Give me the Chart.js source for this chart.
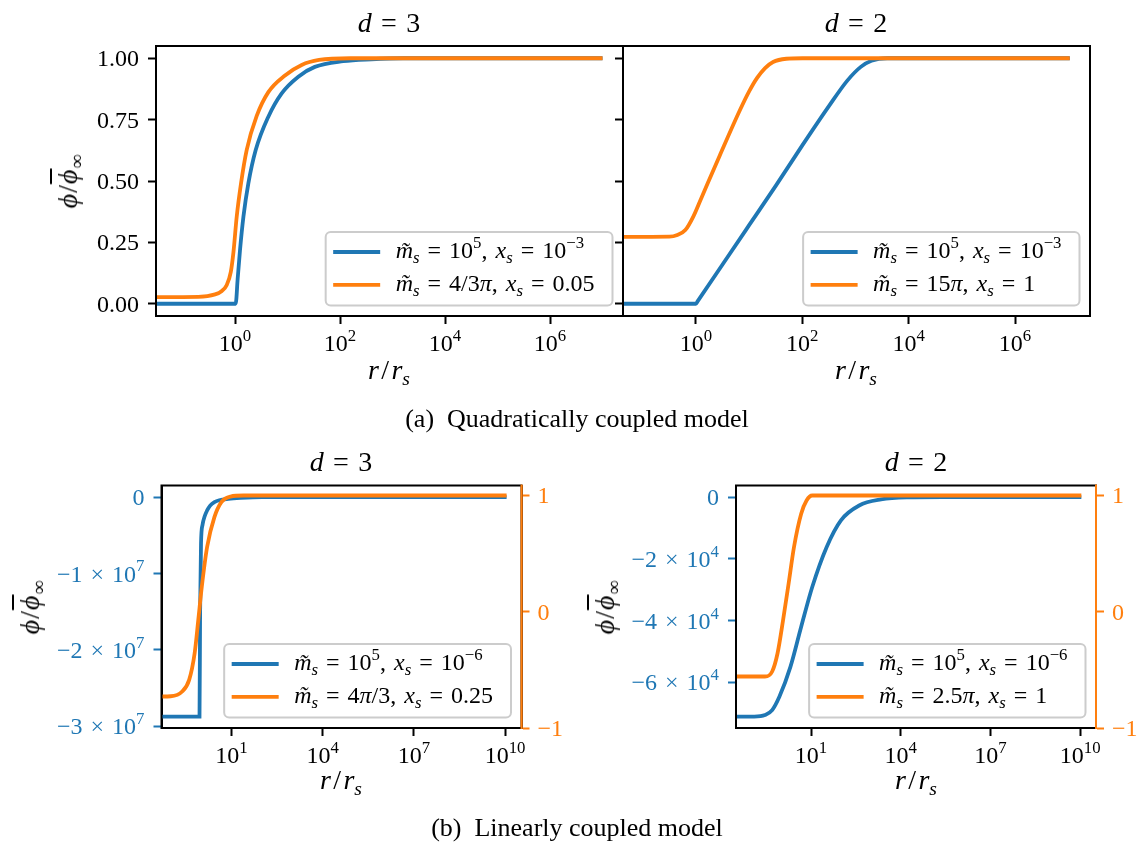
<!DOCTYPE html>
<html>
<head>
<meta charset="utf-8">
<script src="https://cdn.jsdelivr.net/npm/chart.js@4.4.0/dist/chart.umd.min.js"></script>
<style>
  body { margin: 0; background: #fff; }
  #fig { position: relative; width: 1148px; height: 843px; overflow: hidden; }
  #fig canvas { position: absolute; left: 0; top: 0; }
  .lab { position: absolute; font-family: "Liberation Serif", serif; white-space: nowrap; color: #000; transform: translateX(-50%); }
  .t28 { font-size: 28px; line-height: 28px; }
  .t26 { font-size: 26px; line-height: 26px; }
  .ylab { position: absolute; font: 28px "Liberation Serif", serif; line-height: 28px; white-space: nowrap; color: #000; transform: translate(-50%, -50%) rotate(-90deg); letter-spacing: 1px; }
  .lab i, .ylab i { font-style: italic; }
  sub { font-size: 70%; vertical-align: baseline; position: relative; top: 0.3em; line-height: 0; }
  .bar { text-decoration: overline; }
</style>
</head>
<body>
<div id="fig">
  <canvas id="cA" width="1148" height="843"></canvas>
  <canvas id="cB" width="1148" height="843"></canvas>
  <canvas id="cC" width="1148" height="843"></canvas>
  <canvas id="cD" width="1148" height="843"></canvas>

  <div class="lab t28" style="left:389px;top:9px"><i>d</i>&#8196;=&#8196;3</div>
  <div class="lab t28" style="left:856px;top:9px"><i>d</i>&#8196;=&#8196;2</div>
  <div class="lab t28" style="left:341px;top:448px"><i>d</i>&#8196;=&#8196;3</div>
  <div class="lab t28" style="left:916px;top:448px"><i>d</i>&#8196;=&#8196;2</div>

  <div class="lab t28" style="left:389px;top:356px"><i>r</i>&#8202;/&#8202;<i>r</i><sub><i>s</i></sub></div>
  <div class="lab t28" style="left:856px;top:356px"><i>r</i>&#8202;/&#8202;<i>r</i><sub><i>s</i></sub></div>
  <div class="lab t28" style="left:341px;top:766px"><i>r</i>&#8202;/&#8202;<i>r</i><sub><i>s</i></sub></div>
  <div class="lab t28" style="left:916px;top:766px"><i>r</i>&#8202;/&#8202;<i>r</i><sub><i>s</i></sub></div>

  <div class="ylab" style="left:68px;top:181px"><i>ϕ</i>/<i class="bar">ϕ</i><sub>∞</sub></div>
  <div class="ylab" style="left:30px;top:607px"><i>ϕ</i>/<i class="bar">ϕ</i><sub>∞</sub></div>
  <div class="ylab" style="left:605px;top:607px"><i>ϕ</i>/<i class="bar">ϕ</i><sub>∞</sub></div>

  <div class="lab t26" style="left:577px;top:406px">(a)&nbsp; Quadratically coupled model</div>
  <div class="lab t26" style="left:577px;top:815px">(b)&nbsp; Linearly coupled model</div>
</div>

<script>
const BLUE = '#1f77b4';
const ORANGE = '#ff7f0e';
const FONT = '"Liberation Serif", "Times New Roman", serif';
const W = 1148, H = 843;
const LW = 3.8;

// values: log10(r/r_s) and phi/phibar_inf

// (a) d = 3
const aBlueLogR = [-1.5, 0.013, 0.05, 0.095, 0.16, 0.254, 0.394, 0.635, 0.889, 1.206, 1.52, 2.06, 2.6, 3.2, 7.0];
const aBlueVal = [0, 0, 0.1, 0.218, 0.354, 0.49, 0.626, 0.762, 0.857, 0.925, 0.965, 0.988, 0.996, 1.0, 1.0];
const aOrangeLogR = [-1.5, -0.7, -0.38, -0.25, -0.16, -0.08, -0.03, 0.032, 0.114, 0.222, 0.413, 0.635, 0.952, 1.27, 1.6, 2.2, 7.0];
const aOrangeVal = [0.027, 0.028, 0.038, 0.052, 0.075, 0.13, 0.21, 0.354, 0.49, 0.626, 0.765, 0.862, 0.93, 0.973, 0.993, 1.0, 1.0];

// (a) d = 2
const bBlueLogR = [-1.37, 0.0, 0.03, 0.5, 1.0, 1.5, 2.0, 2.5, 2.85, 3.1, 3.3, 3.6, 7.03];
const bBlueVal = [0, 0, 0.0096, 0.16, 0.32, 0.48, 0.645, 0.805, 0.91, 0.965, 0.99, 1.0, 1.0];
const bOrangeLogR = [-1.37, -0.5, -0.35, -0.2, -0.05, 0.1, 0.45, 0.83, 1.0, 1.15, 1.3, 1.45, 1.7, 2.0, 7.03];
const bOrangeVal = [0.272, 0.273, 0.28, 0.3, 0.355, 0.43, 0.605, 0.79, 0.865, 0.92, 0.96, 0.985, 0.998, 1.0, 1.0];

// (b) d = 3 (blue on left axis, orange on right axis)
const cBlueLogR = [-1.3, -0.05, -0.03, 0.0, 0.05, 0.12, 0.2, 0.3, 0.44, 0.6, 0.9, 1.3, 2.0, 10.05];
const cBlueVal = [-2.873e7, -2.873e7, -1.5e7, -0.6e7, -0.36e7, -0.25e7, -0.174e7, -0.11e7, -0.065e7, -0.04e7, -0.022e7, -0.01e7, 0, 0];
const cOrangeLogR = [-1.3, -1.0, -0.62, -0.39, -0.21, -0.09, 0.025, 0.2, 0.44, 0.67, 0.97, 1.4, 10.05];
const cOrangeVal = [-0.729, -0.727, -0.686, -0.586, -0.357, -0.071, 0.214, 0.557, 0.814, 0.943, 0.991, 1.0, 1.0];

// (b) d = 2
const dBlueLogR = [-1.51, -0.9, -0.54, -0.3, -0.06, 0.31, 0.67, 1.04, 1.52, 2.0, 2.61, 3.34, 4.2, 5.4, 10.04];
const dBlueVal = [-7.11e4, -7.11e4, -7.06e4, -6.9e4, -6.47e4, -5.5e4, -4.2e4, -2.91e4, -1.62e4, -0.75e4, -0.27e4, -0.075e4, -0.01e4, 0, 0];
const dOrangeLogR = [-1.51, -0.54, -0.3, -0.12, 0.065, 0.25, 0.43, 0.67, 0.85, 1.04, 10.04];
const dOrangeVal = [-0.557, -0.557, -0.514, -0.357, -0.071, 0.243, 0.557, 0.843, 0.957, 1.0, 1.0];

// ticks and labels
const topXTicks = [1, 1e2, 1e4, 1e6];
const topXLabels = ['10^{0}', '10^{2}', '10^{4}', '10^{6}'];
const topYTicks = [0, 0.25, 0.5, 0.75, 1];
const topYLabels = ['0.00', '0.25', '0.50', '0.75', '1.00'];
const botXTicks = [1e1, 1e4, 1e7, 1e10];
const botXLabels = ['10^{1}', '10^{4}', '10^{7}', '10^{10}'];
const cYTicks = [0, -1e7, -2e7, -3e7];
const cYLabels = ['0', '−1 × 10^{7}', '−2 × 10^{7}', '−3 × 10^{7}'];
const dYTicks = [0, -2e4, -4e4, -6e4];
const dYLabels = ['0', '−2 × 10^{4}', '−4 × 10^{4}', '−6 × 10^{4}'];
const rightTicks = [-1, 0, 1];
const rightLabels = ['−1', '0', '1'];

const aLegend = ['m\u0303_{s} = 10^{5}, x_{s} = 10^{−3}', 'm\u0303_{s} = 4/3π, x_{s} = 0.05'];
const bLegend = ['m\u0303_{s} = 10^{5}, x_{s} = 10^{−3}', 'm\u0303_{s} = 15π, x_{s} = 1'];
const cLegend = ['m\u0303_{s} = 10^{5}, x_{s} = 10^{−6}', 'm\u0303_{s} = 4π/3, x_{s} = 0.25'];
const dLegend = ['m\u0303_{s} = 10^{5}, x_{s} = 10^{−6}', 'm\u0303_{s} = 2.5π, x_{s} = 1'];

function toXY(logR, vals) {
  return logR.map((e, i) => ({ x: Math.pow(10, e), y: vals[i] }));
}

// tiny TeX-ish text: ^{..} superscript, _{..} subscript, letters italic
function mathPieces(ctx, str, size) {
  const runs = [];
  const re = /([\^_])\{([^}]*)\}/g;
  let last = 0, m;
  while ((m = re.exec(str))) {
    if (m.index > last) runs.push({ t: str.slice(last, m.index), lvl: 0 });
    runs.push({ t: m[2], lvl: m[1] === '^' ? 1 : -1 });
    last = re.lastIndex;
  }
  if (last < str.length) runs.push({ t: str.slice(last), lvl: 0 });
  const pieces = [];
  let w = 0;
  runs.forEach(r => {
    (r.t.match(/[A-Za-zπϕ]\u0303?|[^A-Za-zπϕ]+/g) || []).forEach(t => {
      const it = /[A-Za-zπϕ]/.test(t[0]);
      const s = r.lvl ? size * 0.7 : size;
      const font = (it ? 'italic ' : '') + s + 'px ' + FONT;
      const txt = it ? t : t.replace(/ /g, '\u2004');
      ctx.font = font;
      const pw = ctx.measureText(txt).width;
      pieces.push({ t: txt, lvl: r.lvl, font, w: pw });
      w += pw;
    });
  });
  return { pieces, w };
}

function drawMath(ctx, str, x, y, size, color, align) {
  const { pieces, w } = mathPieces(ctx, str, size);
  let cx = align === 'right' ? x - w : align === 'center' ? x - w / 2 : x;
  ctx.save();
  ctx.fillStyle = color;
  ctx.textAlign = 'left';
  ctx.textBaseline = 'alphabetic';
  pieces.forEach(p => {
    ctx.font = p.font;
    const dy = p.lvl === 1 ? -0.42 * size : p.lvl === -1 ? 0.2 * size : 0;
    ctx.fillText(p.t, cx, y + dy);
    cx += p.w;
  });
  ctx.restore();
  return w;
}

function xAxis(range, ticks) {
  return {
    type: 'logarithmic', position: 'bottom', bounds: 'data',
    min: Math.pow(10, range[0]), max: Math.pow(10, range[1]),
    afterBuildTicks: s => { s.ticks = ticks.map(v => ({ value: v })); },
    afterFit: s => { s.height = 0; },
    ticks: { display: false },
    grid: { display: true, drawOnChartArea: false, drawTicks: true, tickLength: 8, tickWidth: 2, tickColor: '#000' },
    border: { display: true, color: '#000', width: 2 }
  };
}

function yAxis(position, spec) {
  return {
    type: 'linear', position, bounds: 'data', min: spec.min, max: spec.max,
    afterBuildTicks: s => { s.ticks = spec.ticks.map(v => ({ value: v })); },
    afterFit: s => { s.width = 0; },
    ticks: { display: false },
    grid: { display: true, drawOnChartArea: false, drawTicks: true, tickLength: 8, tickWidth: 2, tickColor: spec.color },
    border: { display: true, color: spec.spine || '#000', width: 2 }
  };
}

function line(data, color, axis, order) {
  return {
    data, borderColor: color, backgroundColor: color, borderWidth: LW,
    pointRadius: 0, showLine: true, fill: false,
    cubicInterpolationMode: 'monotone', yAxisID: axis, order
  };
}

function panel(id, box, p) {
  const scales = { x: xAxis(p.xRange, p.xTicks), y: yAxis('left', p.yLeft) };
  if (p.yRight) scales.y2 = yAxis('right', p.yRight);

  const textPlugin = {
    id: 'panelText',
    afterDatasetsDraw(chart) {
      const a = chart.chartArea, ctx = chart.ctx;
      ctx.save();
      ctx.lineWidth = 2;
      ctx.strokeStyle = '#000';
      ctx.strokeRect(a.left, a.top, a.right - a.left, a.bottom - a.top);
      if (p.yRight) {
        ctx.strokeStyle = ORANGE;
        ctx.beginPath();
        ctx.moveTo(a.right, a.top - 1);
        ctx.lineTo(a.right, a.bottom + 1);
        ctx.stroke();
      }
      ctx.restore();
    },
    afterDraw(chart) {
      const a = chart.chartArea, ctx = chart.ctx;
      const fs = 24;
      p.xTicks.forEach((v, i) => {
        drawMath(ctx, p.xLabels[i], chart.scales.x.getPixelForValue(v), a.bottom + 35, fs, '#000', 'center');
      });
      if (p.yLeft.labels) {
        p.yLeft.ticks.forEach((v, i) => {
          drawMath(ctx, p.yLeft.labels[i], a.left - 17, chart.scales.y.getPixelForValue(v) + 8, fs, p.yLeft.labelColor, 'right');
        });
      }
      if (p.yRight) {
        p.yRight.ticks.forEach((v, i) => {
          drawMath(ctx, p.yRight.labels[i], a.right + 16, chart.scales.y2.getPixelForValue(v) + 8, fs, ORANGE, 'left');
        });
      }
      // legend, lower right
      const ls = 24;
      const tw = Math.max(...p.legend.map(s => mathPieces(ctx, s, ls).w));
      const right = a.right - 10.5, bottom = a.bottom - 10.5;
      const bw = 70 + tw + 18, bh = 73.5;
      const left = right - bw, top = bottom - bh;
      ctx.save();
      ctx.beginPath();
      ctx.roundRect(left, top, bw, bh, 5);
      ctx.fillStyle = 'rgba(255,255,255,0.8)';
      ctx.fill();
      ctx.lineWidth = 2;
      ctx.strokeStyle = '#cccccc';
      ctx.stroke();
      const rows = [bottom - 53.5, bottom - 20.7];
      const colors = [BLUE, ORANGE];
      rows.forEach((ry, i) => {
        ctx.beginPath();
        ctx.moveTo(left + 7.5, ry);
        ctx.lineTo(left + 54.5, ry);
        ctx.strokeStyle = colors[i];
        ctx.lineWidth = LW;
        ctx.stroke();
        drawMath(ctx, p.legend[i], left + 70, ry + 6, ls, '#000', 'left');
      });
      ctx.restore();
    }
  };

  return new Chart(document.getElementById(id), {
    type: 'scatter',
    data: {
      datasets: [
        line(p.blue, BLUE, 'y', 1),
        line(p.orange, ORANGE, p.yRight ? 'y2' : 'y', 0)
      ]
    },
    options: {
      responsive: false,
      animation: false,
      devicePixelRatio: 1,
      layout: { padding: { left: box.l, top: box.t, right: W - box.r, bottom: H - box.b } },
      plugins: { legend: { display: false }, tooltip: { enabled: false } },
      scales
    },
    plugins: [textPlugin]
  });
}

panel('cA', { l: 156, t: 46, r: 623, b: 316 }, {
  xRange: [-1.505, 7.39], xTicks: topXTicks, xLabels: topXLabels,
  yLeft: { min: -0.05, max: 1.05, ticks: topYTicks, labels: topYLabels, color: '#000', labelColor: '#000' },
  blue: toXY(aBlueLogR, aBlueVal), orange: toXY(aOrangeLogR, aOrangeVal), legend: aLegend
});

panel('cB', { l: 623, t: 46, r: 1090, b: 316 }, {
  xRange: [-1.372, 7.41], xTicks: topXTicks, xLabels: topXLabels,
  yLeft: { min: -0.05, max: 1.05, ticks: topYTicks, labels: null, color: '#000' },
  blue: toXY(bBlueLogR, bBlueVal), orange: toXY(bOrangeLogR, bOrangeVal), legend: bLegend
});

panel('cC', { l: 161.5, t: 485.5, r: 521.5, b: 728 }, {
  xRange: [-1.3, 10.54], xTicks: botXTicks, xLabels: botXLabels,
  yLeft: { min: -3.022e7, max: 0.153e7, ticks: cYTicks, labels: cYLabels, color: BLUE, labelColor: BLUE },
  yRight: { min: -1, max: 1.086, ticks: rightTicks, labels: rightLabels, color: ORANGE, spine: ORANGE },
  blue: toXY(cBlueLogR, cBlueVal), orange: toXY(cOrangeLogR, cOrangeVal), legend: cLegend
});

panel('cD', { l: 736, t: 485.5, r: 1096, b: 728 }, {
  xRange: [-1.51, 10.53], xTicks: botXTicks, xLabels: botXLabels,
  yLeft: { min: -7.48e4, max: 0.378e4, ticks: dYTicks, labels: dYLabels, color: BLUE, labelColor: BLUE },
  yRight: { min: -1, max: 1.086, ticks: rightTicks, labels: rightLabels, color: ORANGE, spine: ORANGE },
  blue: toXY(dBlueLogR, dBlueVal), orange: toXY(dOrangeLogR, dOrangeVal), legend: dLegend
});
</script>
</body>
</html>
